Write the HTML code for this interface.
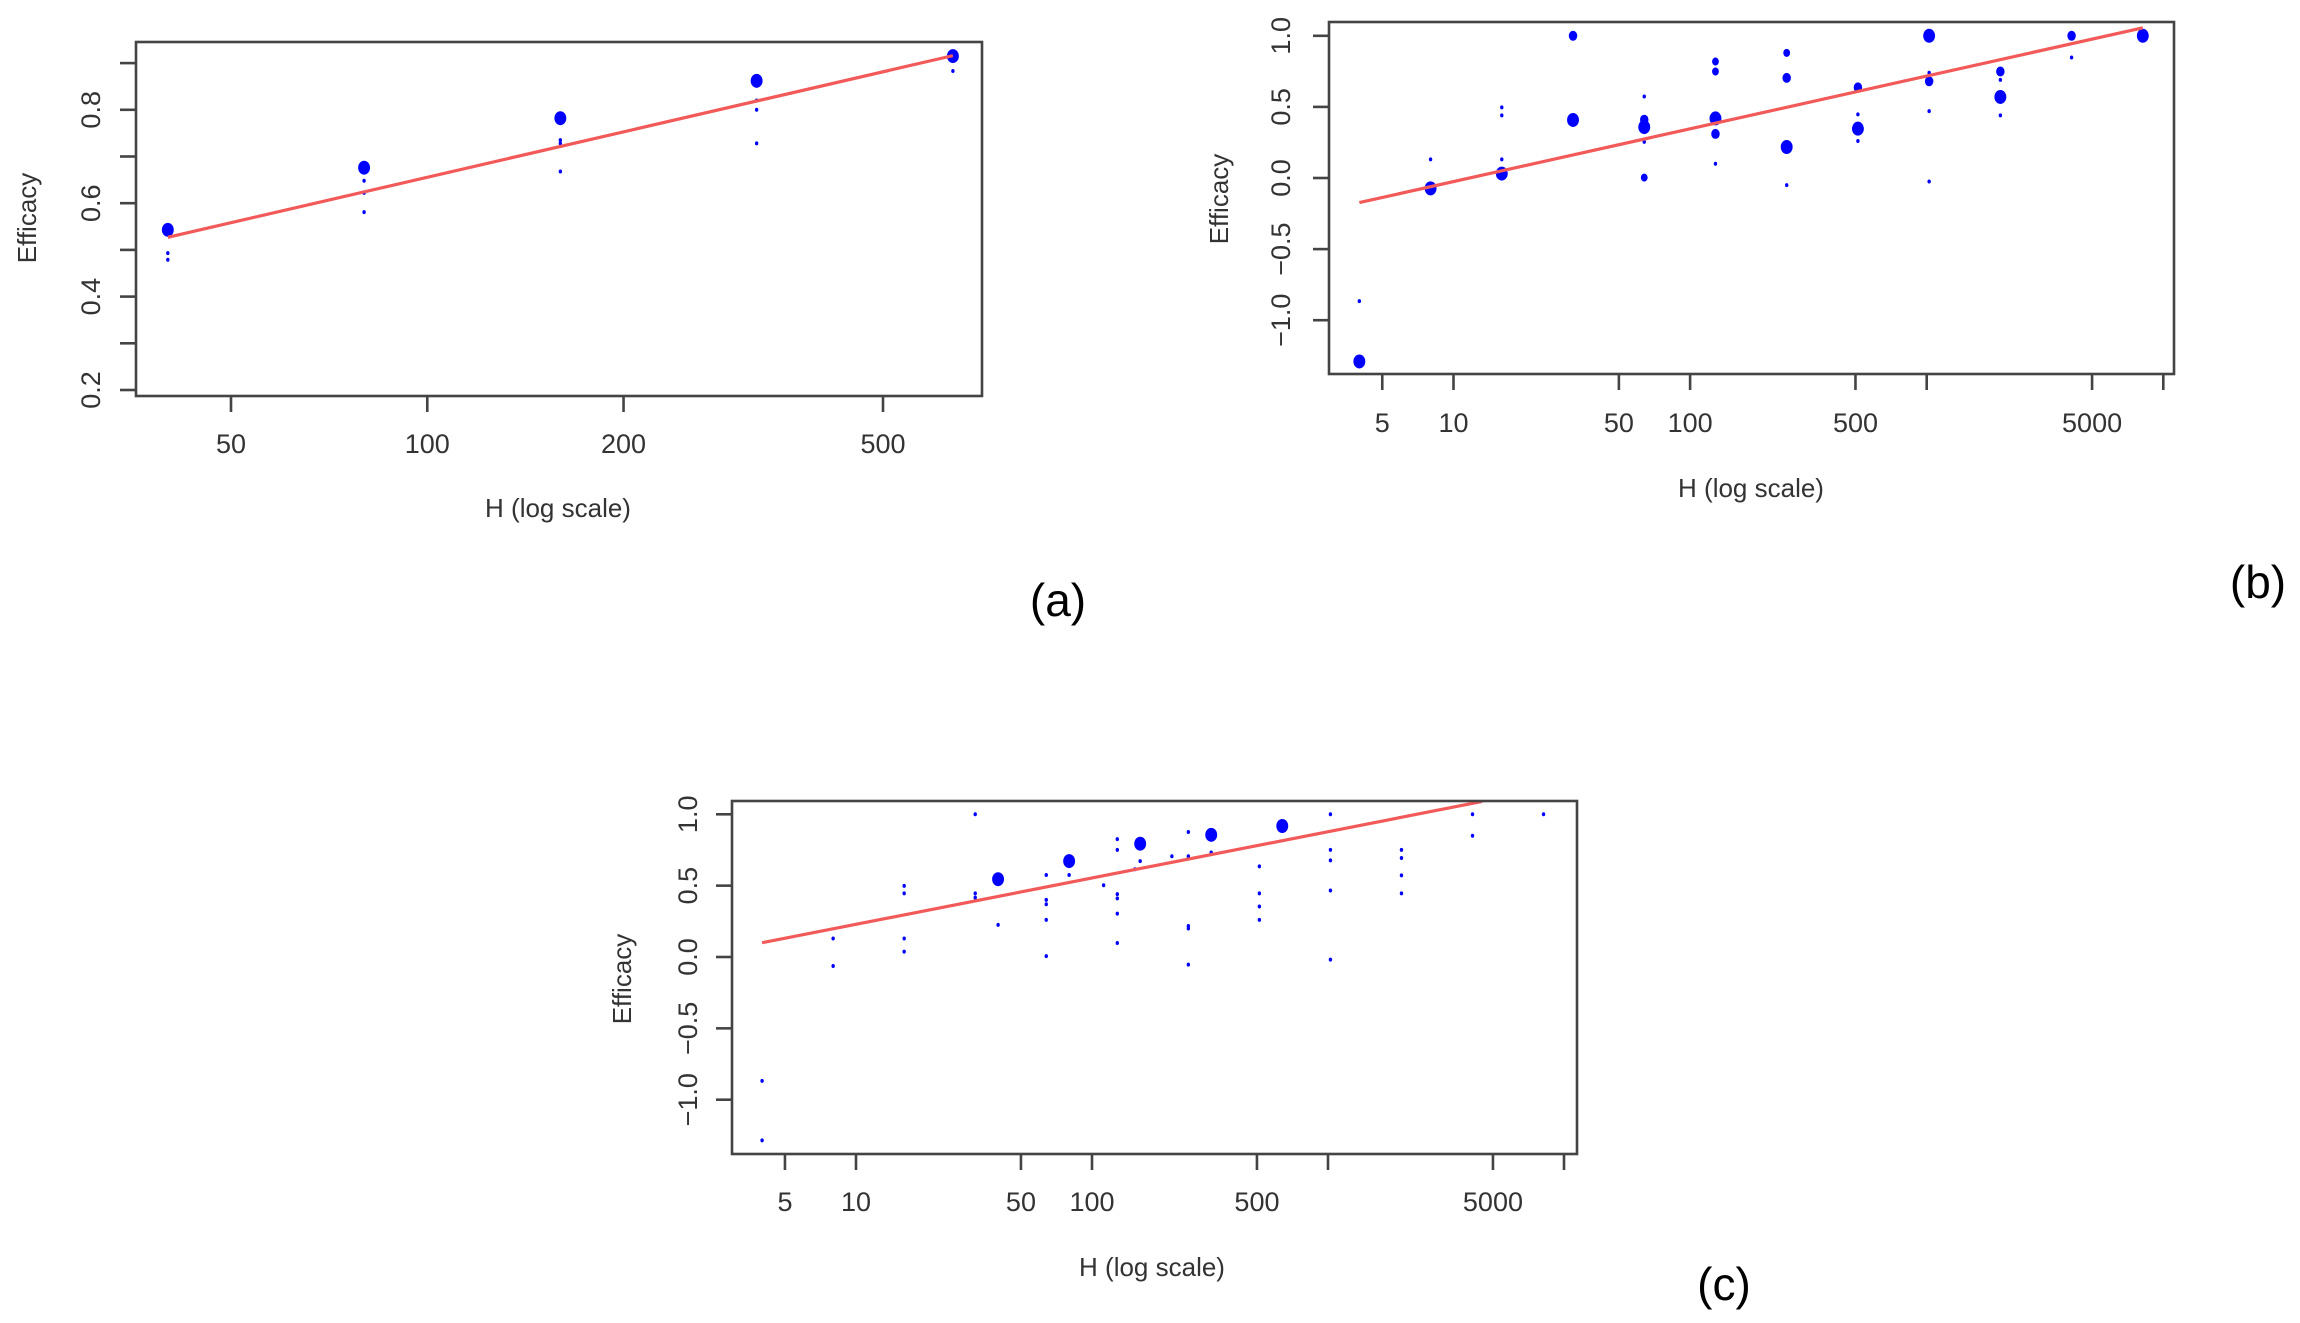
<!DOCTYPE html>
<html><head><meta charset="utf-8"><style>
html,body{margin:0;padding:0;background:#fff;}
svg{display:block;font-family:"Liberation Sans",sans-serif;}
</style></head><body>
<svg id="fig" width="2300" height="1323" viewBox="0 0 2300 1323" xmlns="http://www.w3.org/2000/svg">
<rect x="0" y="0" width="2300" height="1323" fill="#fff"/>
<text x="1058" y="616" font-size="46" text-anchor="middle" fill="#000" font-family="Liberation Sans, sans-serif">(a)</text>
<text x="2258" y="598" font-size="46" text-anchor="middle" fill="#000">(b)</text>
<text x="1724" y="1300" font-size="46" text-anchor="middle" fill="#000">(c)</text>
</svg>
<script>
// Panel A data
const aH = [40,40,40, 80,80,80,80, 160,160,160,160, 320,320,320,320, 640,640];
const aE = [0.543,0.493,0.479, 0.676,0.648,0.622,0.581, 0.782,0.735,0.728,0.668, 0.862,0.82,0.80,0.728, 0.915,0.883];
const aS = [7,2,2, 7,2,2,2, 7,2,2,2, 7,2,2,2, 7,2];
const aLineH = [40,640];
const aLineE = [0.527,0.916];
const aXTicks = [50,100,200,500];
const aXLabels = ["50","100","200","500"];
const aYTicks = [0.2,0.3,0.4,0.5,0.6,0.7,0.8,0.9];
const aYLabels = ["0.2","","0.4","","0.6","","0.8",""];

// Panel B data
const bH = [4,4, 8,8, 16,16,16,16, 32,32, 64,64,64,64,64, 128,128,128,128,128, 256,256,256,256, 512,512,512,512, 1024,1024,1024,1024,1024, 2048,2048,2048,2048, 4096,4096, 8192];
const bE = [-1.29,-0.866, -0.073,0.131, 0.031,0.131,0.497,0.44, 1.0,0.408, 0.358,0.41,0.573,0.003,0.254, 0.419,0.31,0.749,0.819,0.10, 0.218,0.704,0.88,-0.05, 0.347,0.637,0.447,0.26, 1.0,0.68,0.74,0.47,-0.025, 0.57,0.749,0.44,0.69, 1.0,0.847, 1.0];
const bS = [7,2, 7,2, 7,2,2,2, 5,7, 7,5,2,4,2, 7,5,4,4,2, 7,5,4,2, 7,5,2,2, 7,5,2,2,2, 7,5,2,2, 5,2, 7];
const bLineH = [4,8192];
const bLineE = [-0.173,1.056];
const bXTicks = [5,10,50,100,500,1000,5000,10000];
const bXLabels = ["5","10","50","100","500","","5000",""];
const bYTicks = [-1.0,-0.5,0.0,0.5,1.0];
const bYLabels = ["\u22121.0","\u22120.5","0.0","0.5","1.0"];

// Panel C data
const cH = [4,4, 8,8, 16,16,16,16, 32,32,32, 40,40, 64,64,64,64,64, 80,80, 112, 128,128,128,128,128,128, 152, 160,160, 218, 256,256,256,256,256, 320,320, 512,512,512,512, 640, 1024,1024,1024,1024,1024, 2048,2048,2048,2048, 4096,4096, 8192];
const cE = [-0.868,-1.285, 0.13,-0.063, 0.498,0.446,0.13,0.038, 1.0,0.446,0.416, 0.545,0.225, 0.575,0.40,0.37,0.26,0.006, 0.672,0.575, 0.503, 0.826,0.751,0.441,0.411,0.304,0.098, 0.615, 0.794,0.672, 0.706, 0.876,0.706,0.217,0.2,-0.053, 0.856,0.732, 0.635,0.446,0.354,0.26, 0.918, 1.0,0.751,0.677,0.466,-0.018, 0.751,0.694,0.572,0.446, 1.0,0.85, 1.0];
const cS = [2,2, 2,2, 2,2,2,2, 2,2,2, 7,2, 2,2,2,2,2, 7,2, 2, 2,2,2,2,2,2, 2, 7,2, 2, 2,2,2,2,2, 7,2, 2,2,2,2, 7, 2,2,2,2,2, 2,2,2,2, 2,2, 2];
const cLineH = [4,4500];
const cLineE = [0.10,1.09];
const cXTicks = [5,10,50,100,500,1000,5000,10000];
const cXLabels = ["5","10","50","100","500","","5000",""];
const cYTicks = [-1.0,-0.5,0.0,0.5,1.0];
const cYLabels = ["\u22121.0","\u22120.5","0.0","0.5","1.0"];

const NS = "http://www.w3.org/2000/svg";
const svg = document.getElementById('fig');
function mk(tag, attrs, parent){
  const e = document.createElementNS(NS, tag);
  for (const k in attrs) e.setAttribute(k, attrs[k]);
  (parent||svg).appendChild(e);
  return e;
}
function panel(p, H, E, S, LH, LE, XT, XL, YT, YL){
  // axis functions
  const x = h => p.xRef + (Math.log10(h) - Math.log10(p.hRef)) * p.decade;
  const y = v => p.yRef - (v - p.vRef) * p.unit;
  const g = mk('g', {});
  
  
  const clip = mk('clipPath', {id: p.name + '-clip'}, g);
  mk('rect', {x:p.L, y:p.T, width:p.R-p.L, height:p.B-p.T}, clip);
  // points
  for (let i = 0; i < H.length; i++){
    const c = mk('ellipse', {cx: x(H[i]), cy: y(E[i]), rx: S[i]*0.85, ry: S[i], fill:'#0000ff'}, g);
    
    
  }
  // fit line
  const ln = mk('line', {x1:x(LH[0]), y1:y(LE[0]), x2:x(LH[1]), y2:y(LE[1]), stroke:'#f25a5a', 'stroke-width':3.2, 'clip-path':'url(#'+p.name+'-clip)'}, g);
  
  
  // box
  const bx = mk('rect', {x:p.L, y:p.T, width:p.R-p.L, height:p.B-p.T, fill:'none', stroke:'#444', 'stroke-width':2.6}, g);
  
  
  // x ticks
  for (let i = 0; i < XT.length; i++){
    const xx = x(XT[i]);
    const t = mk('line', {x1:xx, y1:p.B, x2:xx, y2:p.B+16, stroke:'#444','stroke-width':2.6}, g);
    
    
    if (XL[i]){
      const tx = mk('text', {x:xx, y:p.xLabY, 'font-size':27, 'text-anchor':'middle', fill:'#333', transform:'translate(0,0)'}, g);
      tx.textContent = XL[i];
      
      
    }
  }
  // y ticks
  for (let i = 0; i < YT.length; i++){
    const yy = y(YT[i]);
    const t = mk('line', {x1:p.L-16, y1:yy, x2:p.L, y2:yy, stroke:'#444','stroke-width':2.6}, g);
    
    
    if (YL[i]){
      const tx = mk('text', {x:0, y:0, 'font-size':27, 'text-anchor':'middle', fill:'#333', transform:'translate('+p.yLabX+','+yy+') rotate(-90)'}, g);
      tx.textContent = YL[i];
      
      
    }
  }
  const xt = mk('text', {x:p.xTitleX, y:p.xTitleY, 'font-size':26, 'text-anchor':'middle', fill:'#333'}, g);
  xt.textContent = 'H (log scale)';
  
  
  const yt = mk('text', {x:0, y:0, 'font-size':26, 'text-anchor':'middle', fill:'#333', transform:'translate('+p.yTitleX+','+p.yTitleY+') rotate(-90)'}, g);
  yt.textContent = 'Efficacy';
  
  
}
panel({name:'panel-a', L:136, R:982, T:42, B:396, xRef:231, hRef:50, decade:652, yRef:390, vRef:0.2, unit:467,
  xLabY:453, yLabX:100, xTitleX:558, xTitleY:517, yTitleX:36, yTitleY:218},
  aH, aE, aS, aLineH, aLineE, aXTicks, aXLabels, aYTicks, aYLabels);
panel({name:'panel-b', L:1329, R:2174, T:22, B:374, xRef:1453.5, hRef:10, decade:236.6, yRef:178, vRef:0, unit:142.2,
  xLabY:432, yLabX:1290, xTitleX:1751, xTitleY:497, yTitleX:1228, yTitleY:199},
  bH, bE, bS, bLineH, bLineE, bXTicks, bXLabels, bYTicks, bYLabels);
panel({name:'panel-c', L:732, R:1577, T:801, B:1154, xRef:856, hRef:10, decade:236, yRef:957, vRef:0, unit:142.7,
  xLabY:1211, yLabX:697, xTitleX:1152, xTitleY:1276, yTitleX:631, yTitleY:979},
  cH, cE, cS, cLineH, cLineE, cXTicks, cXLabels, cYTicks, cYLabels);
</script>
</body></html>
